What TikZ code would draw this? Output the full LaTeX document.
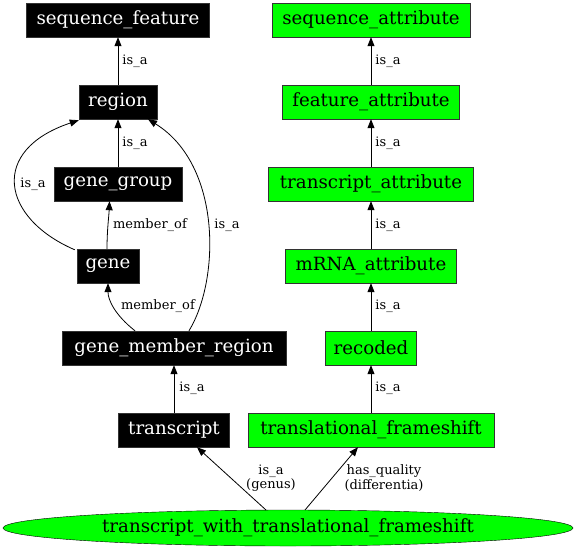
\documentclass[tikz,border=0pt]{standalone}
\usepackage{fontspec}
\setmainfont{DejaVu Serif}
\usetikzlibrary{arrows.meta,shapes.geometric}
\begin{document}
\begin{tikzpicture}[x=1pt,y=-1pt,
  blk/.style={rectangle,draw=black!80,fill=black,text=white,font=\fontsize{18.2}{20}\selectfont,minimum height=34pt,inner sep=0pt},
  grn/.style={rectangle,draw=black!80,fill=green,text=black,font=\fontsize{18.2}{20}\selectfont,minimum height=34pt,inner sep=0pt},
  ell/.style={ellipse,draw=black,fill=green,font=\fontsize{18.2}{20}\selectfont,minimum width=570pt,minimum height=36pt,inner sep=0pt},
  edge/.style={draw=black,line width=0.8pt,-{Triangle[length=9pt,width=7pt]}},
  lbl/.style={font=\fontsize{13}{14.5}\selectfont,inner sep=0pt,align=center}]
\useasboundingbox (0,0) rectangle (576,552);
\fill[white] (0,0) rectangle (576,552);
% black column
\node[blk,minimum width=183pt] (sf) at (118,20) {sequence\_feature};
\node[blk,minimum width=78pt] (region) at (118,102) {region};
\node[blk,minimum width=128pt] (gg) at (118,184) {gene\_group};
\node[blk,minimum width=62pt] (gene) at (108,266) {gene};
\node[blk,minimum width=224pt] (gmr) at (174,348) {gene\_member\_region};
\node[blk,minimum width=111pt] (tr) at (174,430) {transcript};
% green column
\node[grn,minimum width=198pt] (sa) at (371,20) {sequence\_attribute};
\node[grn,minimum width=177pt] (fa) at (371,102) {feature\_attribute};
\node[grn,minimum width=205pt] (ta) at (371,184) {transcript\_attribute};
\node[grn,minimum width=171pt] (ma) at (371,266) {mRNA\_attribute};
\node[grn,minimum width=91pt] (rec) at (371,348) {recoded};
\node[grn,minimum width=246pt] (tf) at (371,430) {translational\_frameshift};
\node[ell] (twtf) at (288,528) {transcript\_with\_translational\_frameshift};
% black edges
\draw[edge] (region) -- (sf);
\node[lbl] at (135,61) {is\_a};
\draw[edge] (gg) -- (region);
\node[lbl] at (135,143) {is\_a};
\draw[edge] ([xshift=-1pt]gene.north) .. controls (107,230) and (109,215) .. ([xshift=-8.5pt]gg.south);
\node[lbl] at (150,225) {member\_of};
\draw[edge] ([xshift=-2pt,yshift=-1pt]gene.north west) .. controls (1,218) and (-11,150) .. ([yshift=-1pt]region.south west);
\node[lbl] at (33,184) {is\_a};
\draw[edge] ([xshift=-39pt]gmr.north) .. controls (115,315) and (108,300) .. (gene.south);
\node[lbl] at (158,306) {member\_of};
\draw[edge] ([xshift=15pt]gmr.north) .. controls (220,280) and (222,165) .. ([xshift=30pt]region.south);
\node[lbl] at (227,225) {is\_a};
\draw[edge] (tr) -- (gmr);
\node[lbl] at (192,388) {is\_a};
% green edges
\draw[edge] (fa) -- (sa);
\node[lbl] at (388,61) {is\_a};
\draw[edge] (ta) -- (fa);
\node[lbl] at (388,143) {is\_a};
\draw[edge] (ma) -- (ta);
\node[lbl] at (388,225) {is\_a};
\draw[edge] (rec) -- (ma);
\node[lbl] at (388,306) {is\_a};
\draw[edge] (tf) -- (rec);
\node[lbl] at (388,388) {is\_a};
% ellipse edges
\coordinate (s1) at (266,510);
\coordinate (s2) at (305,510);
\draw[edge] (s1) -- ([xshift=23pt]tr.south);
\node[lbl] at (271,478) {is\_a\\(genus)};
\draw[edge] (s2) -- ([xshift=-13pt]tf.south);
\node[lbl] at (384,478) {has\_quality\\(differentia)};
\end{tikzpicture}
\end{document}
